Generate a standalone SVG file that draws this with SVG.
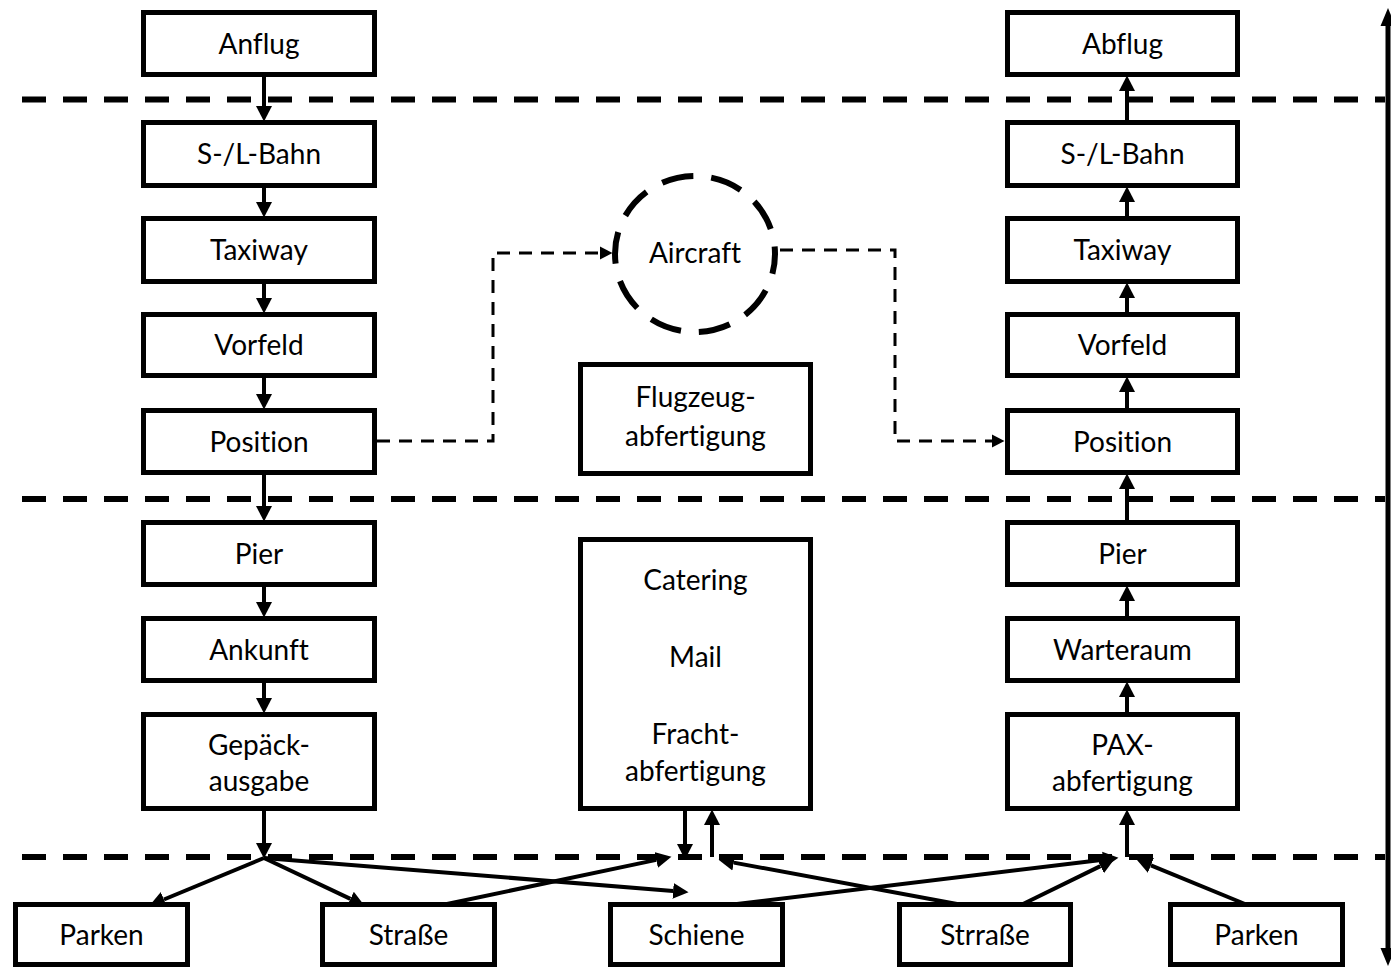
<svg xmlns="http://www.w3.org/2000/svg" width="1391" height="967" viewBox="0 0 1391 967">
  <style>
    .box { fill: #fff; stroke: #000; stroke-width: 5; }
    .lbl { font-family: Lato, "Open Sans", "Liberation Sans", sans-serif; font-size: 28px; fill: #000; text-anchor: middle; font-variant-ligatures: none; font-feature-settings: "liga" 0, "clig" 0; }
    .zone { fill: none; stroke: #000; stroke-width: 6; stroke-dasharray: 24 17; }
    .flow { fill: none; stroke: #000; stroke-width: 4; marker-end: url(#head); }
    .dflow { fill: none; stroke: #000; stroke-width: 3; stroke-dasharray: 13 9; marker-end: url(#dhead); }
    .ring { fill: #fff; stroke: #000; stroke-width: 6; stroke-dasharray: 32 18; }
  </style>
  <defs>
    <!-- arrowheads start at the line end and extend forward -->
    <marker id="head" markerUnits="userSpaceOnUse" markerWidth="16" markerHeight="18" viewBox="0 -8 15 16" refX="0" refY="0" orient="auto">
      <path d="M0,-7.5 L14.5,0 L0,7.5 z" fill="#000"/>
    </marker>
    <marker id="dhead" markerUnits="userSpaceOnUse" markerWidth="14" markerHeight="14" viewBox="0 -7 13 14" refX="0" refY="0" orient="auto">
      <path d="M0,-6.5 L12.5,0 L0,6.5 z" fill="#000"/>
    </marker>
  </defs>

  <!-- zone separators -->
  <g id="zones">
    <line class="zone" x1="22" y1="99.5" x2="1385" y2="99.5"/>
    <line class="zone" x1="22" y1="499" x2="1385" y2="499"/>
    <line class="zone" x1="22" y1="857" x2="1385" y2="857"/>
  </g>

  <!-- time axis on the right edge -->
  <g id="axis">
    <line x1="1388" y1="24" x2="1388" y2="950" stroke="#000" stroke-width="5"/>
    <polygon points="1388,8 1380.5,26 1395.5,26" fill="#000"/>
    <polygon points="1388,966 1380.5,948 1395.5,948" fill="#000"/>
  </g>

  <!-- arrival column -->
  <g id="anflug"><rect class="box" x="143.5" y="12.5" width="231" height="62"/><text class="lbl" x="259" y="54">Anflug</text></g>
  <g id="bahn-an"><rect class="box" x="143.5" y="122.5" width="231" height="63"/><text class="lbl" x="259" y="164">S-/L-Bahn</text></g>
  <g id="taxiway-an"><rect class="box" x="143.5" y="218.5" width="231" height="63"/><text class="lbl" x="259" y="260">Taxiway</text></g>
  <g id="vorfeld-an"><rect class="box" x="143.5" y="314.5" width="231" height="61"/><text class="lbl" x="259" y="355">Vorfeld</text></g>
  <g id="position-an"><rect class="box" x="143.5" y="410.5" width="231" height="62"/><text class="lbl" x="259" y="452">Position</text></g>
  <g id="pier-an"><rect class="box" x="143.5" y="522.5" width="231" height="62"/><text class="lbl" x="259" y="564">Pier</text></g>
  <g id="ankunft"><rect class="box" x="143.5" y="618.5" width="231" height="62"/><text class="lbl" x="259" y="660">Ankunft</text></g>
  <g id="gepaeck"><rect class="box" x="143.5" y="714.5" width="231" height="94"/><text class="lbl" x="259" y="755">Gepäck-</text><text class="lbl" x="259" y="791">ausgabe</text></g>

  <!-- departure column -->
  <g id="abflug"><rect class="box" x="1007.5" y="12.5" width="230" height="62"/><text class="lbl" x="1122.5" y="54">Abflug</text></g>
  <g id="bahn-ab"><rect class="box" x="1007.5" y="122.5" width="230" height="63"/><text class="lbl" x="1122.5" y="164">S-/L-Bahn</text></g>
  <g id="taxiway-ab"><rect class="box" x="1007.5" y="218.5" width="230" height="63"/><text class="lbl" x="1122.5" y="260">Taxiway</text></g>
  <g id="vorfeld-ab"><rect class="box" x="1007.5" y="314.5" width="230" height="61"/><text class="lbl" x="1122.5" y="355">Vorfeld</text></g>
  <g id="position-ab"><rect class="box" x="1007.5" y="410.5" width="230" height="62"/><text class="lbl" x="1122.5" y="452">Position</text></g>
  <g id="pier-ab"><rect class="box" x="1007.5" y="522.5" width="230" height="62"/><text class="lbl" x="1122.5" y="564">Pier</text></g>
  <g id="warteraum"><rect class="box" x="1007.5" y="618.5" width="230" height="62"/><text class="lbl" x="1122.5" y="660">Warteraum</text></g>
  <g id="pax"><rect class="box" x="1007.5" y="714.5" width="230" height="94"/><text class="lbl" x="1122.5" y="755">PAX-</text><text class="lbl" x="1122.5" y="791">abfertigung</text></g>

  <!-- centre -->
  <g id="aircraft"><ellipse class="ring" cx="695" cy="254" rx="80" ry="78" stroke-dashoffset="12"/><text class="lbl" x="695" y="263">Aircraft</text></g>
  <g id="flugzeug"><rect class="box" x="580.5" y="364.5" width="230" height="109"/><text class="lbl" x="695.5" y="407">Flugzeug-</text><text class="lbl" x="695.5" y="446">abfertigung</text></g>
  <g id="fracht"><rect class="box" x="580.5" y="539.5" width="230" height="269"/><text class="lbl" x="695.5" y="590">Catering</text><text class="lbl" x="695.5" y="667">Mail</text><text class="lbl" x="695.5" y="744">Fracht-</text><text class="lbl" x="695.5" y="781">abfertigung</text></g>

  <!-- landside access -->
  <g id="parken-an"><rect class="box" x="15.5" y="904.5" width="172" height="60"/><text class="lbl" x="101.5" y="945">Parken</text></g>
  <g id="strasse-an"><rect class="box" x="322.5" y="904.5" width="172" height="60"/><text class="lbl" x="408.5" y="945">Straße</text></g>
  <g id="schiene"><rect class="box" x="610.5" y="904.5" width="172" height="60"/><text class="lbl" x="696.5" y="945">Schiene</text></g>
  <g id="strasse-ab"><rect class="box" x="899.5" y="904.5" width="171" height="60"/><text class="lbl" x="985" y="945">Strraße</text></g>
  <g id="parken-ab"><rect class="box" x="1170.5" y="904.5" width="172" height="60"/><text class="lbl" x="1256.5" y="945">Parken</text></g>

  <g id="connectors">
    <!-- arrival chain -->
    <line class="flow" x1="264" y1="77" x2="264" y2="106"/>
    <line class="flow" x1="264" y1="188" x2="264" y2="202"/>
    <line class="flow" x1="264" y1="284" x2="264" y2="298"/>
    <line class="flow" x1="264" y1="378" x2="264" y2="394"/>
    <line class="flow" x1="264" y1="475" x2="264" y2="506"/>
    <line class="flow" x1="264" y1="587" x2="264" y2="602"/>
    <line class="flow" x1="264" y1="683" x2="264" y2="698"/>
    <line class="flow" x1="264" y1="811" x2="264" y2="843"/>
    <!-- departure chain -->
    <line class="flow" x1="1127" y1="120" x2="1127" y2="91"/>
    <line class="flow" x1="1127" y1="216" x2="1127" y2="202"/>
    <line class="flow" x1="1127" y1="312" x2="1127" y2="298"/>
    <line class="flow" x1="1127" y1="408" x2="1127" y2="392"/>
    <line class="flow" x1="1127" y1="520" x2="1127" y2="489"/>
    <line class="flow" x1="1127" y1="616" x2="1127" y2="601"/>
    <line class="flow" x1="1127" y1="712" x2="1127" y2="697"/>
    <line class="flow" x1="1127" y1="857" x2="1127" y2="825"/>
    <!-- aircraft turnaround -->
    <polyline class="dflow" points="377,441 493,441 493,253 600,253"/>
    <polyline class="dflow" points="780,250 895,250 895,441 992,441"/>
    <!-- cargo exchange -->
    <line class="flow" x1="685" y1="811" x2="685" y2="844"/>
    <line class="flow" x1="712" y1="857" x2="712" y2="825"/>
    <!-- arrival landside distribution -->
    <line class="flow" x1="264" y1="858" x2="163.9" y2="899.5"/>
    <line class="flow" x1="264" y1="858" x2="350.4" y2="898.9"/>
    <line class="flow" x1="264" y1="858" x2="673.1" y2="890.9"/>
    <!-- landside feeds -->
    <line class="flow" x1="447" y1="904" x2="656.3" y2="859.9"/>
    <line class="flow" x1="737" y1="904" x2="1103.1" y2="859.7"/>
    <line class="flow" x1="957" y1="904" x2="733.8" y2="862.6"/>
    <line class="flow" x1="1023" y1="904" x2="1100.4" y2="866.1"/>
    <line class="flow" x1="1245" y1="904" x2="1150.9" y2="865.3"/>
  </g>
</svg>
